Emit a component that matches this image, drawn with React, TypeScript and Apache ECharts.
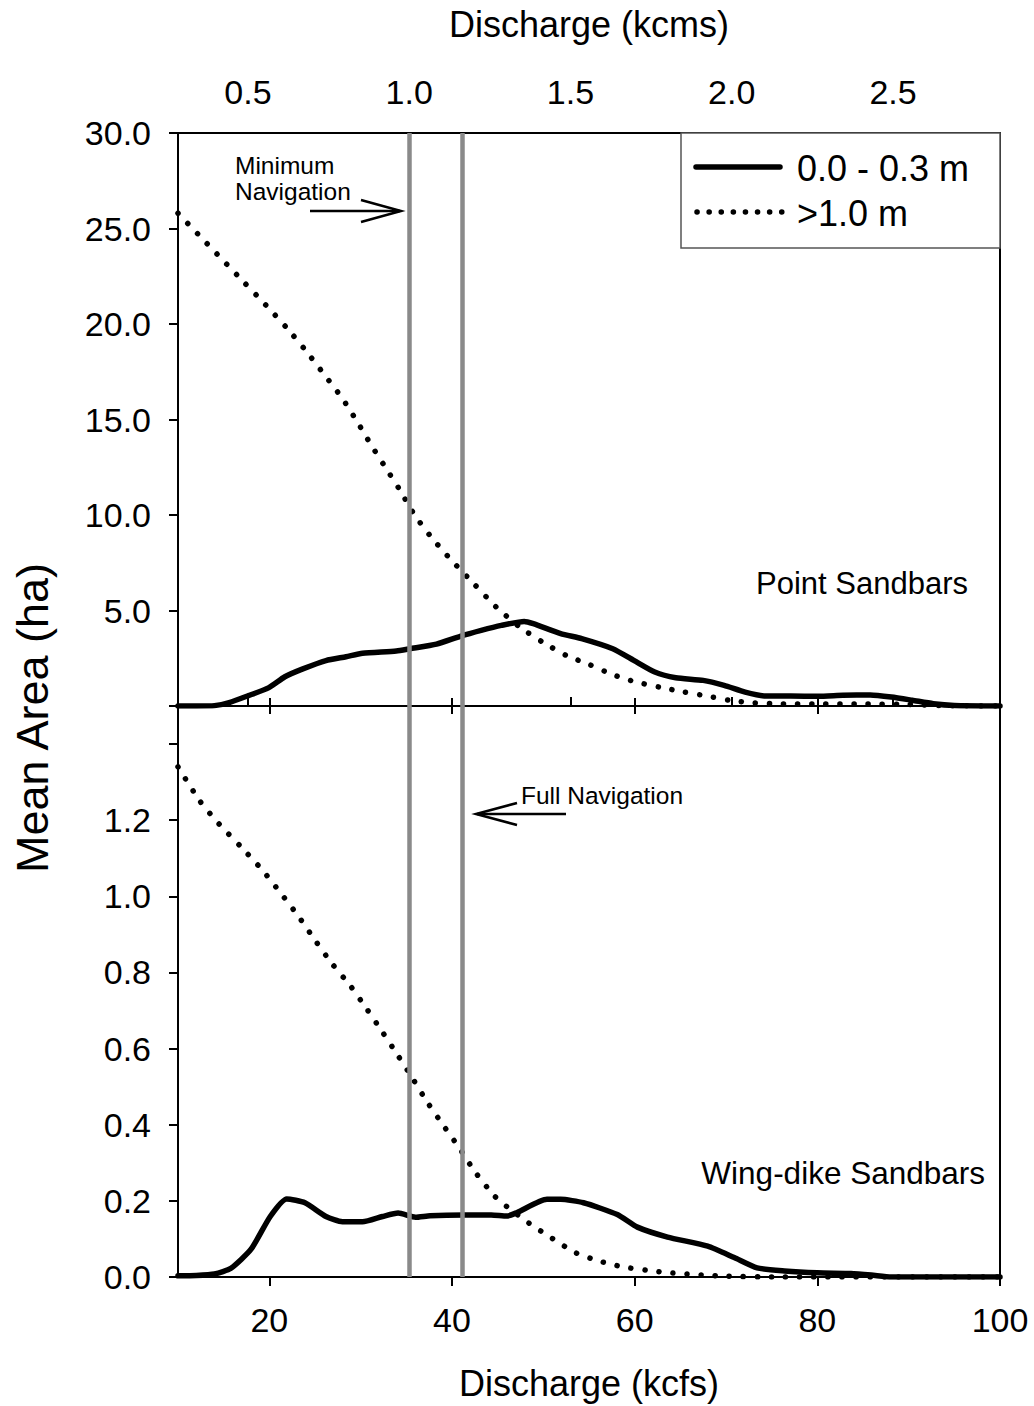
import React, { useEffect, useRef } from "react";
import * as echarts from "echarts";

// ---- Data (discharge in kcfs, mean area in ha) ----
const KCMS_PER_KCFS = 0.0283168;

const pointShallowX = [10, 12, 14, 15.6, 17.7, 19.9, 21.7, 23.6, 26.2, 28.4, 30.2, 33.9, 35.4, 38.3, 40.9, 43.2, 45.4, 47.9, 48.9, 51.9, 54.2, 57.6, 59.9, 62.2, 64.5, 67.5, 69.8, 72.1, 74.4, 77.1, 80.1, 82.8, 85.8, 88.1, 90.4, 92.7, 95, 100];
const pointShallowY = [0, 0, 0.02, 0.18, 0.54, 0.95, 1.53, 1.93, 2.38, 2.58, 2.76, 2.88, 3.0, 3.24, 3.65, 3.96, 4.22, 4.43, 4.31, 3.79, 3.53, 3.0, 2.39, 1.78, 1.48, 1.34, 1.08, 0.73, 0.52, 0.52, 0.51, 0.56, 0.58, 0.47, 0.3, 0.12, 0.03, 0];

const pointDeepX = [10, 12.4, 14.8, 17.2, 19.6, 21.9, 24, 26.1, 28, 29.6, 31.1, 32.7, 34.3, 35.9, 37.8, 40, 42.4, 44.8, 47.4, 49.9, 52.5, 55.1, 57.6, 60.1, 62.7, 65.4, 67.9, 70.4, 73.1, 76, 80, 85, 90, 94, 100];
const pointDeepY = [25.8, 24.6, 23.4, 22.2, 21.0, 19.8, 18.6, 17.3, 16.1, 14.9, 13.7, 12.5, 11.3, 10.0, 8.8, 7.6, 6.4, 5.2, 4.14, 3.35, 2.65, 2.16, 1.64, 1.26, 0.99, 0.73, 0.52, 0.3, 0.16, 0.11, 0.1, 0.1, 0.08, 0.02, 0];

const wingShallowX = [10, 12, 14, 15.8, 18, 20.1, 21.9, 23.9, 26.2, 28, 30.2, 32.4, 34.1, 36, 37.6, 41.3, 44.3, 46, 47.1, 50.4, 51.9, 54.4, 58.1, 60.3, 63.6, 68, 70.9, 73.4, 76.4, 80, 83.7, 85.9, 88.1, 100];
const wingShallowY = [0.003, 0.004, 0.008, 0.023, 0.073, 0.159, 0.205, 0.195, 0.159, 0.145, 0.145, 0.159, 0.168, 0.157, 0.161, 0.163, 0.163, 0.16, 0.169, 0.204, 0.204, 0.195, 0.164, 0.131, 0.105, 0.081, 0.051, 0.024, 0.016, 0.011, 0.009, 0.005, 0, 0];

const wingDeepX = [10, 12.4, 14.5, 16.9, 19.2, 21.2, 23.2, 25, 26.8, 28.9, 30.7, 32.4, 34.1, 35.7, 37.3, 39, 40.8, 42.5, 44.6, 46, 48.4, 51, 53.5, 56.1, 58.6, 61.2, 63.8, 67.6, 70.2, 75, 100];
const wingDeepY = [1.34, 1.25, 1.19, 1.13, 1.07, 1.01, 0.947, 0.885, 0.825, 0.764, 0.703, 0.643, 0.581, 0.521, 0.459, 0.4, 0.339, 0.277, 0.214, 0.185, 0.142, 0.101, 0.064, 0.042, 0.027, 0.018, 0.011, 0.005, 0.002, 0, 0];

const navigationLines = [35.3, 41.1]; // minimum / full navigation (kcfs)

const kcmsTicks = [0.5, 1.0, 1.5, 2.0, 2.5];
const kcfsTicks = [20, 40, 60, 80, 100];
const pointYTicks = [0, 5, 10, 15, 20, 25, 30];
const pointYLabels = [5, 10, 15, 20, 25, 30];
const wingYTicks = [0, 0.2, 0.4, 0.6, 0.8, 1.0, 1.2, 1.4];
const wingYLabels = [0, 0.2, 0.4, 0.6, 0.8, 1.0, 1.2];

const seriesNames = ["0.0 - 0.3 m", ">1.0 m"];

const zip = (xs: number[], ys: number[]) => xs.map((x, i) => [x, ys[i]]);

const FONT = "'Liberation Sans', Arial, sans-serif";
const DOT = [0.1, 14];
const LEGEND_DOT = [0.1, 12];

export default function App() {
  const ref = useRef<HTMLDivElement>(null);

  useEffect(() => {
    document.body.style.margin = "0";
    const chart = echarts.init(ref.current!, null, { renderer: "svg" });

    const axisLine = { show: true, lineStyle: { color: "#000", width: 2 } };
    const tickStyle = { color: "#000", width: 2 };
    const kcmsTickValues = kcmsTicks.map((v) => v / KCMS_PER_KCFS);

    const solidStyle = { color: "#000", width: 5.5, cap: "round", join: "round" };
    const dotStyle = { color: "#000", width: 5.5, type: DOT, cap: "round" };

    const option: any = {
      animation: false,
      backgroundColor: "#fff",
      textStyle: { fontFamily: FONT, color: "#000" },
      grid: [
        { left: 178, top: 133, width: 822, height: 573, show: true, borderColor: "#000", borderWidth: 2, backgroundColor: "transparent", outerBoundsMode: "none" },
        { left: 178, top: 706, width: 822, height: 571, show: true, borderColor: "#000", borderWidth: 2, backgroundColor: "transparent", outerBoundsMode: "none" },
      ],
      xAxis: [
        {
          gridIndex: 0, type: "value", position: "top", min: 10, max: 100,
          axisLine, splitLine: { show: false },
          axisTick: { show: true, length: 9, lineStyle: tickStyle, customValues: kcmsTickValues },
          axisLabel: {
            show: true, customValues: kcmsTickValues, fontSize: 34, color: "#000", margin: 24, fontFamily: FONT,
            formatter: (v: number) => (v * KCMS_PER_KCFS).toFixed(1),
          },
          name: "Discharge (kcms)", nameLocation: "middle", nameGap: 91,
          nameTextStyle: { fontSize: 36, color: "#000", fontFamily: FONT },
        },
        {
          gridIndex: 0, type: "value", position: "bottom", min: 10, max: 100,
          axisLine, splitLine: { show: false },
          axisTick: { show: true, length: 8, lineStyle: tickStyle, customValues: kcfsTicks },
          axisLabel: { show: false },
        },
        {
          gridIndex: 1, type: "value", position: "bottom", min: 10, max: 100,
          axisLine, splitLine: { show: false },
          axisTick: { show: true, length: 9, lineStyle: tickStyle, customValues: kcfsTicks },
          axisLabel: { show: true, customValues: kcfsTicks, fontSize: 34, color: "#000", margin: 26, fontFamily: FONT },
          name: "Discharge (kcfs)", nameLocation: "middle", nameGap: 88,
          nameTextStyle: { fontSize: 36, color: "#000", fontFamily: FONT },
        },
        {
          gridIndex: 1, type: "value", position: "top", min: 10, max: 100,
          axisLine: { show: false }, splitLine: { show: false },
          axisTick: { show: true, length: 8, lineStyle: tickStyle, customValues: kcfsTicks },
          axisLabel: { show: false },
        },
      ],
      yAxis: [
        {
          gridIndex: 0, type: "value", min: 0, max: 30,
          axisLine, splitLine: { show: false },
          axisTick: { show: true, length: 9, lineStyle: tickStyle, customValues: pointYTicks },
          axisLabel: {
            show: true, customValues: pointYLabels, fontSize: 34, color: "#000", margin: 27, fontFamily: FONT,
            formatter: (v: number) => v.toFixed(1),
          },
        },
        {
          gridIndex: 1, type: "value", min: 0, max: 1.5,
          axisLine, splitLine: { show: false },
          axisTick: { show: true, length: 9, lineStyle: tickStyle, customValues: wingYTicks },
          axisLabel: {
            show: true, customValues: wingYLabels, fontSize: 34, color: "#000", margin: 27, fontFamily: FONT,
            formatter: (v: number) => v.toFixed(1),
          },
        },
      ],
      series: [
        {
          name: "navigation-top", type: "line", xAxisIndex: 1, yAxisIndex: 0, data: [], z: 1, silent: true,
          markLine: {
            silent: true, symbol: ["none", "none"], label: { show: false },
            lineStyle: { color: "#8a8a8a", width: 4.5, type: "solid" },
            data: navigationLines.map((v) => ({ xAxis: v })),
          },
        },
        {
          name: "navigation-bottom", type: "line", xAxisIndex: 2, yAxisIndex: 1, data: [], z: 1, silent: true,
          markLine: {
            silent: true, symbol: ["none", "none"], label: { show: false },
            lineStyle: { color: "#8a8a8a", width: 4.5, type: "solid" },
            data: navigationLines.map((v) => ({ xAxis: v })),
          },
        },
        { name: seriesNames[0], type: "line", xAxisIndex: 1, yAxisIndex: 0, data: zip(pointShallowX, pointShallowY), symbol: "none", smooth: 0.2, lineStyle: solidStyle, z: 3 },
        { name: seriesNames[1], type: "line", xAxisIndex: 1, yAxisIndex: 0, data: zip(pointDeepX, pointDeepY), symbol: "none", smooth: 0.2, lineStyle: dotStyle, z: 3 },
        { name: seriesNames[0] + " (wing)", type: "line", xAxisIndex: 2, yAxisIndex: 1, data: zip(wingShallowX, wingShallowY), symbol: "none", smooth: 0.2, lineStyle: solidStyle, z: 3 },
        { name: seriesNames[1] + " (wing)", type: "line", xAxisIndex: 2, yAxisIndex: 1, data: zip(wingDeepX, wingDeepY), symbol: "none", smooth: 0.2, lineStyle: dotStyle, z: 3 },
      ],
      graphic: [
        // y-axis title
        {
          type: "text", x: 32, y: 718, rotation: Math.PI / 2,
          style: { text: "Mean Area (ha)", fontSize: 45, fontFamily: FONT, fill: "#000", align: "center", verticalAlign: "middle" },
        },
        // legend box
        { type: "rect", shape: { x: 681, y: 133, width: 319, height: 115 }, style: { fill: "#fff", stroke: "#555", lineWidth: 1.5 }, z: 10 },
        { type: "line", shape: { x1: 696, y1: 167, x2: 780, y2: 167 }, style: { stroke: "#000", lineWidth: 5.5, lineCap: "round" }, z: 11 },
        { type: "line", shape: { x1: 697, y1: 212, x2: 782, y2: 212 }, style: { stroke: "#000", lineWidth: 5.5, lineCap: "round", lineDash: LEGEND_DOT }, z: 11 },
        { type: "text", x: 797, y: 168, style: { text: seriesNames[0], fontSize: 36, fontFamily: FONT, fill: "#000", verticalAlign: "middle" }, z: 11 },
        { type: "text", x: 797, y: 213, style: { text: seriesNames[1], fontSize: 36, fontFamily: FONT, fill: "#000", verticalAlign: "middle" }, z: 11 },
        // panel labels
        { type: "text", x: 968, y: 583, style: { text: "Point Sandbars", fontSize: 31, fontFamily: FONT, fill: "#000", align: "right", verticalAlign: "middle" }, z: 11 },
        { type: "text", x: 985, y: 1173, style: { text: "Wing-dike Sandbars", fontSize: 31.5, fontFamily: FONT, fill: "#000", align: "right", verticalAlign: "middle" }, z: 11 },
        // Minimum navigation annotation
        { type: "text", x: 235, y: 152, style: { text: "Minimum\nNavigation", fontSize: 24.5, lineHeight: 26, fontFamily: FONT, fill: "#000", align: "left", verticalAlign: "top" }, z: 11 },
        { type: "polyline", shape: { points: [[310, 211], [400, 211]] }, style: { stroke: "#000", lineWidth: 2.5, fill: "none" }, z: 11 },
        { type: "polyline", shape: { points: [[361, 200], [401, 211], [361, 222]] }, style: { stroke: "#000", lineWidth: 2.5, fill: "none" }, z: 11 },
        // Full navigation annotation
        { type: "text", x: 521, y: 795, style: { text: "Full Navigation", fontSize: 24.5, fontFamily: FONT, fill: "#000", align: "left", verticalAlign: "middle" }, z: 11 },
        { type: "polyline", shape: { points: [[477, 814], [566, 814]] }, style: { stroke: "#000", lineWidth: 2.5, fill: "none" }, z: 11 },
        { type: "polyline", shape: { points: [[517, 803], [476, 814], [517, 825]] }, style: { stroke: "#000", lineWidth: 2.5, fill: "none" }, z: 11 },
      ],
    };

    chart.setOption(option);
    return () => chart.dispose();
  }, []);

  return <div ref={ref} style={{ width: 1034, height: 1406 }} />;
}
